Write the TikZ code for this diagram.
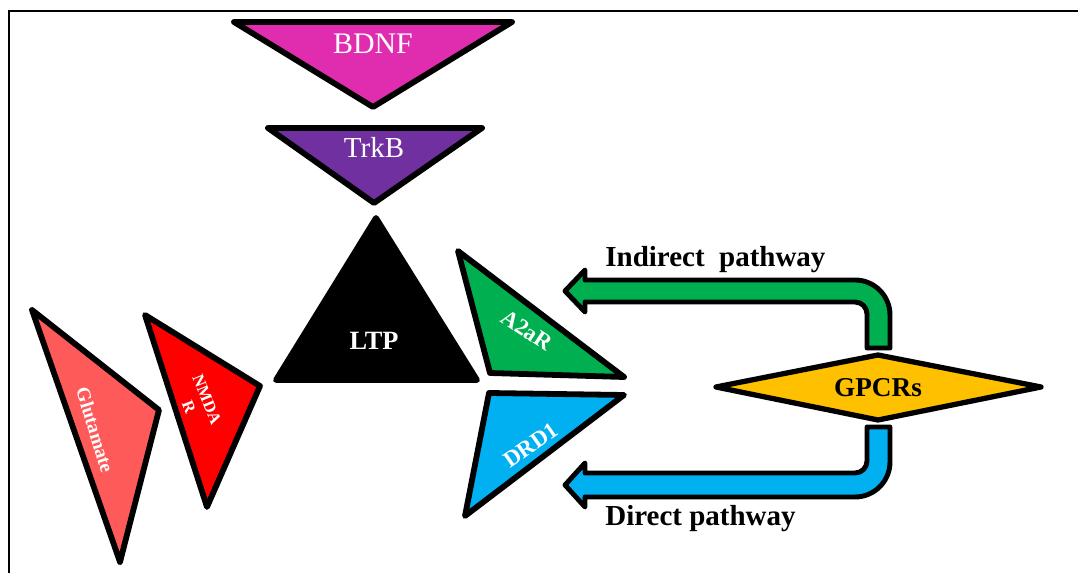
\documentclass[tikz,border=0pt]{standalone}
\usepackage{fontspec}
\setmainfont{Liberation Serif}
\definecolor{bdnfpink}{RGB}{224,45,176}
\definecolor{trkbpurple}{RGB}{112,48,160}
\definecolor{glured}{RGB}{255,90,90}
\definecolor{nmdared}{RGB}{255,0,0}
\definecolor{agreen}{RGB}{0,176,80}
\definecolor{dblue}{RGB}{0,176,240}
\definecolor{gyellow}{RGB}{255,192,0}
\tikzset{
  tri/.style={draw=black,line width=3.3pt,line join=round},
  blockarrow/.style={draw=black,line width=2.8pt,line join=round},
  lbl/.style={text=white,inner sep=0pt},
  pathlbl/.style={inner sep=0pt,anchor=base west,font=\fontsize{16.5}{18}\selectfont\bfseries},
}
\begin{document}
\begin{tikzpicture}[x=0.02cm,y=-0.02cm]
 \useasboundingbox (0,0) rectangle (1078,573);
 \draw[line width=1.2pt] (9,573) -- (9,11) -- (1078,11); % frame
 % top column
 \draw[tri,fill=bdnfpink] (234,22) -- (512,22) -- (373,107) -- cycle;
 \draw[tri,fill=trkbpurple] (268,128) -- (482,128) -- (374,203) -- cycle;
 \draw[tri,fill=black] (376,218) -- (477,380) -- (276,380) -- cycle;
 \node[lbl,font=\fontsize{17}{19}\selectfont,name=bdnf] at (373,44) {BDNF};
 \node[lbl,font=\fontsize{16.5}{19}\selectfont,name=trkb] at (374,147) {TrkB};
 \node[lbl,font=\fontsize{15}{17}\selectfont\bfseries,name=ltp] at (374,341) {LTP};
 % glutamate side
 \draw[tri,fill=glured] (32,310) -- (159,410) -- (120,562) -- cycle;
 \draw[tri,fill=nmdared] (145,315) -- (260,386) -- (207,507) -- cycle;
 \node[lbl,font=\fontsize{11}{13}\selectfont\bfseries,rotate=-73,name=glu] at (95,430) {Glutamate};
 \node[lbl,font=\fontsize{9.5}{11}\selectfont\bfseries,rotate=-68,align=center,name=nmda] at (198,403) {NMDA\\R};
 % dopamine / adenosine receptors
 \draw[tri,fill=agreen] (458,251) -- (624,377) -- (490,373) -- cycle;
 \draw[tri,fill=dblue] (489,393) -- (624,395) -- (465,516) -- cycle;
 \node[lbl,font=\fontsize{13}{15}\selectfont\bfseries,rotate=-33,name=a2ar] at (527,330) {A2aR};
 \node[lbl,font=\fontsize{13}{15}\selectfont\bfseries,rotate=35,name=drd1] at (531,445) {DRD1};
 % GPCRs
 \draw[tri,line width=3pt,fill=gyellow] (716,387) -- (878,355) -- (1041,387) -- (878,420) -- cycle;
 \node[inner sep=0pt,font=\fontsize{15.5}{17}\selectfont\bfseries,name=gpcr] at (878,388) {GPCRs};
 % pathways
 \draw[blockarrow,fill=agreen] (867,348) -- (867,314) arc[start angle=0,end angle=90,radius=0.24cm]
   -- (585,302) -- (585,312) -- (565,291) -- (585,270) -- (585,280) -- (855,280)
   arc[start angle=90,end angle=0,radius=0.7cm] -- (890,348) -- cycle;
 \draw[blockarrow,fill=dblue] (867,427) -- (867,461) arc[start angle=0,end angle=-90,radius=0.24cm]
   -- (585,473) -- (585,463) -- (565,485) -- (585,507) -- (585,497) -- (855,497)
   arc[start angle=-90,end angle=0,radius=0.7cm] -- (890,427) -- cycle;
 \node[pathlbl,name=indirect] at (605,267) {Indirect\ \ pathway};
 \node[pathlbl,name=direct] at (605,526) {Direct pathway};
\end{tikzpicture}
\end{document}
